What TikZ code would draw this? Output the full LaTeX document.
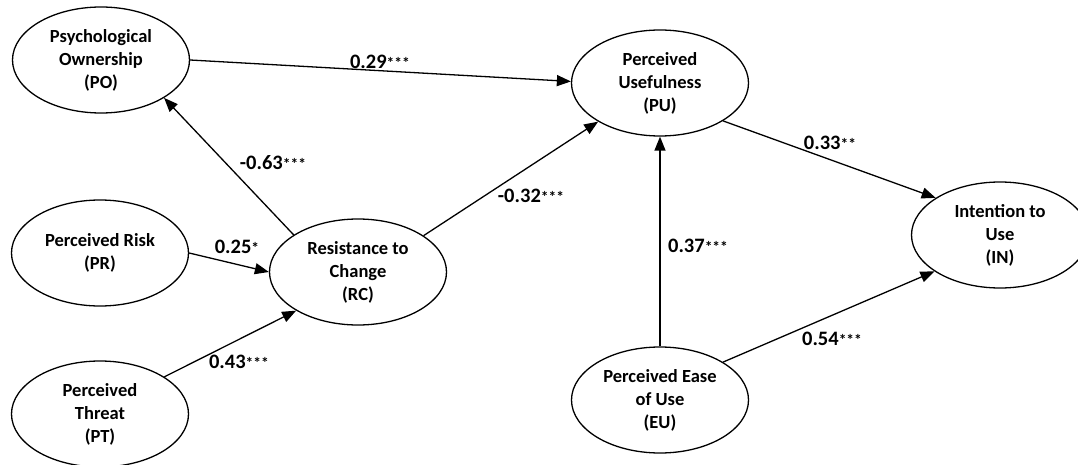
\documentclass[tikz,border=0pt]{standalone}
\usepackage{fontspec}
\setmainfont{Carlito}
\usetikzlibrary{shapes.geometric,arrows.meta}
\newcommand\sigstars[1]{{\fontsize{15.5pt}{17pt}\selectfont #1}}
\tikzset{
  lat/.style={draw, ellipse, line width=1.3pt, minimum width=177pt, minimum height=106pt,
    inner sep=0pt, align=center, font=\fontsize{18.5pt}{23pt}\selectfont\bfseries},
  arr/.style={line width=1.3pt, -{Triangle[length=14pt,width=11pt]}},
  lbl/.style={inner sep=0pt, font=\fontsize{20.5pt}{22pt}\selectfont\bfseries}
}
\begin{document}
\begin{tikzpicture}[x=1pt,y=-1pt]
\useasboundingbox (0,0) rectangle (1078,465);
\clip (0,0) rectangle (1078,465);
\node[lat] (PO) at (101,60)  {Psychological\\Ownership\\(PO)};
\node[lat] (PU) at (660,83)  {Perceived\\Usefulness\\(PU)};
\node[lat] (PR) at (100,253) {Perceived Risk\\(PR)};
\node[lat] (RC) at (358,272) {Resistance to\\Change\\(RC)};
\node[lat] (PT) at (100,414) {Perceived\\Threat\\(PT)};
\node[lat] (EU) at (660,400) {Perceived Ease\\of Use\\(EU)};
\node[lat] (IN) at (1000,235) {Intention to\\Use\\(IN)};
\draw[arr] (PO.east) -- (PU.179);
\draw[arr] (RC.150) -- (PO.-31);
\draw[arr] (PR.east) -- (RC.west);
\draw[arr] (PT.30) -- (RC.212);
\draw[arr] (RC.29) -- (PU.212);
\draw[arr] (PU.-31) -- (IN.150);
\draw[arr] (EU.north) -- (PU.south);
\draw[arr] (EU.31) -- (IN.209);
\node[lbl] (l1) at (380,62)  {0.29\sigstars{***}};
\node[lbl] (l2) at (273,163) {-0.63\sigstars{***}};
\node[lbl] (l3) at (237,247) {0.25\sigstars{*}};
\node[lbl] (l4) at (239,362) {0.43\sigstars{***}};
\node[lbl] (l5) at (531,196) {-0.32\sigstars{***}};
\node[lbl] (l6) at (830,143) {0.33\sigstars{**}};
\node[lbl] (l7) at (698,246) {0.37\sigstars{***}};
\node[lbl] (l8) at (832,339) {0.54\sigstars{***}};
\end{tikzpicture}
\end{document}
